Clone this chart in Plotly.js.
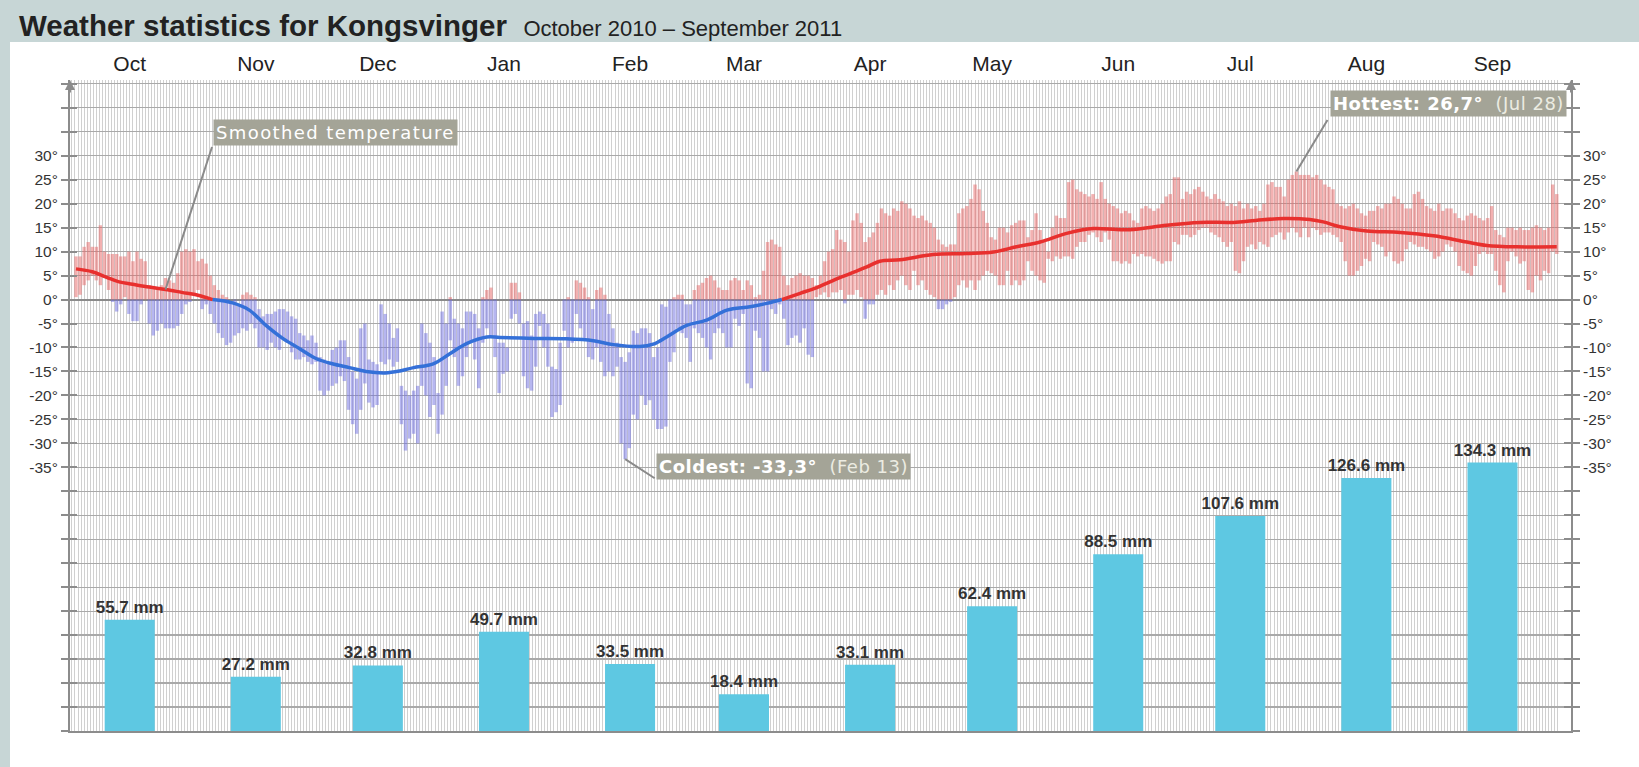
<!DOCTYPE html>
<html><head><meta charset="utf-8">
<script src="https://cdn.plot.ly/plotly-3.0.1.min.js"></script>
<style>
html,body{margin:0;padding:0;background:#fff;}
#frameTop{position:absolute;left:0;top:0;width:1639px;height:42px;background:#c7d6d6;}
#frameLeft{position:absolute;left:0;top:0;width:10px;height:767px;background:#c7d6d6;}
#chart{position:absolute;left:0;top:0;width:1639px;height:767px;}
</style></head><body>
<div id="frameTop"></div><div id="frameLeft"></div><div id="chart"></div>
<script>
// ---------- data ----------
const months = ['Oct','Nov','Dec','Jan','Feb','Mar','Apr','May','Jun','Jul','Aug','Sep'];
const monthDays = [31,30,31,31,28,31,30,31,30,31,31,30];
const precipMm = [55.7,27.2,32.8,49.7,33.5,18.4,33.1,62.4,88.5,107.6,126.6,134.3];

// daily max / min temperature (°C), October 2010 – September 2011
const octHi = [9,9,11,12,11,11,15.5,10,9.5,9.5,9.5,9,9,10,8,10,8.5,8,3,2.5,2.5,3,4.5,4,3.5,5.5,10,10.5,10,10.5,8];
const octLo = [0.5,1,3,4,5,4,3,4.5,2,-0.5,-2.5,-1,0.5,-3,-4.5,-4.5,-1,0,-5,-7.5,-6.5,-5,-6,-6,-6,-5.5,-3,-1,-0.5,1,2];
const novHi = [8.5,7.5,5,3,2,1,0.5,-0.5,0,-1,1,1.5,1,0.5,-2,-3.5,-3,-3,-2.5,-2,-2,-2.5,-3.5,-4,-7,-7.5,-8.5,-7.5,-9,-12];
const novLo = [-2,-1,-3,-5,-7,-8,-9.5,-9,-7.5,-7,-6,-6.5,-5,-6,-10,-10,-10.5,-9,-10,-10.5,-8,-9,-11,-12.5,-12.5,-12,-13,-13.5,-13,-19];
const decHi = [-12.5,-13,-10.5,-10,-8.5,-8.5,-12,-15,-16.5,-6,-5,-12.5,-13,-13.5,-1,-3,-5,-8,-6,-18,-19,-20,-19,-18,-5,-7,-9,-12,-19.5,-2.5,-5];
const decLo = [-20,-19,-18,-17.5,-16,-17,-23,-26,-28,-23,-17.5,-21.5,-22.5,-22,-13,-13.5,-12.5,-14,-13,-26,-31.5,-29,-28,-30,-18,-20,-24.5,-22,-28,-24,-18];
const janHi = [0.5,-4,-5,-6,-2.5,-2.5,-3,-6,0.5,2,2.5,0,-9,-9,-10,3.5,3.5,1.5,-5,-4.5,-7.5,-3,-2.5,-3,-5,-14,-14.5,-9,0,0.5,0];
const janLo = [-8.5,-12,-18,-16,-12,-9,-12.5,-18.5,-9,-6,-8,-12,-19.5,-15.5,-15,-4,-3,-5,-16,-18.5,-19,-14,-5.5,-10,-14,-24.5,-23.5,-22,-6.5,-10,-9];
const febHi = [4,3.5,2.5,0.5,-2,2,2.5,1,-3,-6,-9,-12,-13,-11,-6.5,-7,-6,-6,-7,-12,-10,-1,-1.5,0,0.5,1,1,-1];
const febLo = [-3,-6,-8,-12,-12.5,-10,-13,-16,-15,-16,-14,-30,-33.3,-31,-24,-25,-20,-22,-21,-25,-27,-27,-26.5,-13,-11,-6,-7,-8];
const marHi = [-1,2,3,3.5,4.5,5,4,2.5,2,2,4,4.5,4,2,4,3,0.5,1,6,12,12.5,11.5,11,5,3,4.5,5,5.5,5,5,4.5];
const marLo = [-13,-6,-7,-8,-10,-12.5,-7,-6,-7,-10,-10,-4,-5.5,-3,-17.5,-18.5,-6.5,-8,-15,-15,-2,-3,-1,-4,-9.5,-8,-7.5,-9,-6,-11.5,-12];
const aprHi = [3,5,8,10,10.5,14.5,12.5,12,10,16.5,18,16,12,13,14,16,19,18,17.5,19,18.5,20.5,20,19,17.5,17,17.5,16.5,16,15];
const aprLo = [0.5,1,1.5,0.5,1.5,1.5,2,-0.8,1,1,2,0.5,-4,-1,-1,1,2,1,3,2,4,5,3,2,6,3,4,2,1,0.5];
const mayHi = [12.5,11.5,11,11.5,11.5,18,19,19.5,21,24,23,18.5,16,13,12.5,15,15,14,15.5,16,16.5,16.5,13,14.5,18,14.5,12,10,15,17.5,17];
const mayLo = [-2,-2,-1,-0.5,0.5,3,4,2.5,4,2,4,5,6,5.5,5,3,3,6,3,4,3,4,8,6,5,4,3.5,8.5,8,9,8.5];
const junHi = [17,24.5,25,23,22.5,22,21.5,22,21,24.5,21,20,19.5,19,18,18.5,18,16.5,16,19,19.5,19,18.5,19,20,21.5,22,25.5,25.5,21];
const junLo = [9,9,8.5,11,12,12,13.5,14,13,12,14,12.5,8,8,7.5,8,7.5,9.5,9,9.5,9,9,8.5,8,7.5,8,8,12,11.5,13.5];
const julHi = [22.5,22,23,23.5,22.5,21.5,21,22,21,20.5,19.5,20,19.5,20.5,19,20,19,19.5,18.5,20,24,24.5,23.5,23.5,21.5,25,26,26.7,26,26,26];
const julLo = [13.5,13,13.5,14.5,15,15,14,13.5,13,12,11,12,6,5.5,8,11,11.5,10.5,12,11.5,11,13,13.5,14,12.5,14,15,14,13,15,13];
const augHi = [25.5,26,25,24,23.5,23,20,19.5,19,19.5,20,19,18,17.5,18.5,18.5,19.5,19,20,20,21.5,21,20,19,19,22,22.5,21,19.5,19,18.5];
const augLo = [15,14.5,13.5,14,14,13.5,13,12,8,5,5,6,7,8.5,8,12,11.5,11,9,10,8,7.5,8,10.5,12,11.5,11,11,10.5,10,8.5];
const sepHi = [20,18.5,19,19,18,17,16.5,17.5,18,17.5,17,16.5,17,19.5,14.5,13.5,13,15,15,14.5,15,14.5,14.5,15,15.5,15,14.5,15,24,22];
const sepLo = [9,10,11.5,11,10,7,6,5.5,5,7,9.5,10,9.5,9.5,6,3,1.5,8,10,9,7.5,8,2,1.5,5,4,6,5.5,10,9.5];

// smoothed temperature curve, read at these day offsets from 1 Oct 2010
const smoothDay = [0,4,7.4,10.6,13.9,18,22,26,30,33.6,38.5,42.6,46.7,50.8,54.9,59,63,67.2,71.3,76,79.6,83,87.8,91.9,96,101,104.2,112.4,120.6,127.2,132.1,138.6,141.9,145.2,150.1,155,160,165.7,169.8,173.5,178,182.1,186.2,190.3,194.4,197.6,202.6,210.7,218.9,225.5,231.2,237,243.5,250.1,255.8,259.9,268.1,276.3,284.5,290,296.8,303.3,306.6,310.7,317.3,325.5,333.7,341.9,346.8,354.2,364];
const smoothTemp = [6.4,5.8,4.7,3.7,3.2,2.6,2.1,1.5,0.9,0,-0.7,-2.2,-5.4,-8.1,-10.2,-12.3,-13.4,-14.2,-15.0,-15.3,-14.9,-14.2,-13.4,-11.3,-9.2,-7.8,-7.9,-8.1,-8.2,-8.6,-9.4,-9.8,-9.3,-7.8,-5.4,-4.3,-2.2,-1.5,-0.8,0,1.3,2.5,4.0,5.4,6.8,8.0,8.3,9.4,9.6,9.9,11.0,12.0,13.8,14.8,14.6,14.6,15.5,16.1,16.1,16.5,16.9,16.7,16.2,15.2,14.3,14.0,13.3,12.0,11.3,11.0,11.0];

// ---------- derived ----------
const tHi = [].concat(octHi,novHi,decHi,janHi,febHi,marHi,aprHi,mayHi,junHi,julHi,augHi,sepHi);
const tLo = [].concat(octLo,novLo,decLo,janLo,febLo,marLo,aprLo,mayLo,junLo,julLo,augLo,sepLo);
const startUTC = Date.UTC(2010,9,1);
const shortMon = ['Jan','Feb','Mar','Apr','May','Jun','Jul','Aug','Sep','Oct','Nov','Dec'];
function dayLabel(i){const d=new Date(startUTC+i*86400000);return shortMon[d.getUTCMonth()]+' '+d.getUTCDate();}

const monthStart = []; {let s=0; monthDays.forEach(n=>{monthStart.push(s); s+=n;});}
const BAR_OFFSET = 13.2;           // style: where the month bar / label sits inside the month
const monthPos = monthStart.map(s=>s+BAR_OFFSET);

const redX=[],redY=[],redB=[],blueX=[],blueY=[],blueB=[];
tHi.forEach((hi,i)=>{
  const lo=tLo[i];
  if(hi>0){const b=Math.max(lo,0); redX.push(i); redB.push(b); redY.push(hi-b);}
  if(lo<0){const t=Math.min(hi,0); blueX.push(i); blueB.push(lo); blueY.push(t-lo);}
});
const smoothRed = smoothTemp.map(v=>v>=0?v:null);
const smoothBlue = smoothTemp.map(v=>v<=0?v:null);

let iMax=0,iMin=0;
tHi.forEach((v,i)=>{if(v>tHi[iMax])iMax=i;});
tLo.forEach((v,i)=>{if(v<tLo[iMin])iMin=i;});
const fmt = v=>v.toFixed(1).replace('.',',');

// ---------- geometry (style) ----------
const T_RANGE=[-90,45.8];
const PX_PER_DEG = (767-80-35.5)/(T_RANGE[1]-T_RANGE[0]);
const PX_PER_MM = 2.0;
const P_RANGE=[0,(T_RANGE[1]-T_RANGE[0])*PX_PER_DEG/PX_PER_MM];
const X_RANGE=[-1.475,367.5];

const gridX=[]; for(let v=-1; v<=364.6; v+=0.75) gridX.push(v);
const tv=[]; for(let v=-90; v<=45; v+=5) tv.push(v);
const tt=tv.map(v=>(v>=-35&&v<=30)?v+'°':'');

const axisCol='#8c8c8c';
const tickFont={family:'Liberation Sans, Arial, sans-serif',size:15.5,color:'#333'};

const traces=[
 {type:'bar',x:redX,y:redY,base:redB,width:0.85,marker:{color:'rgba(232,100,100,0.5)',line:{width:0}},hoverinfo:'skip',xaxis:'x',yaxis:'y'},
 {type:'bar',x:blueX,y:blueY,base:blueB,width:0.85,marker:{color:'rgba(110,110,225,0.5)',line:{width:0}},hoverinfo:'skip',xaxis:'x',yaxis:'y'},
 {type:'scatter',mode:'lines',x:smoothDay,y:smoothRed,line:{color:'#e8302e',width:3.5,shape:'spline',smoothing:1},connectgaps:false,hoverinfo:'skip',xaxis:'x',yaxis:'y'},
 {type:'scatter',mode:'lines',x:smoothDay,y:smoothBlue,line:{color:'#3470d8',width:3.5,shape:'spline',smoothing:1},connectgaps:false,hoverinfo:'skip',xaxis:'x',yaxis:'y'},
 {type:'bar',x:monthPos,y:precipMm,width:12.3,marker:{color:'#5ec8e2',line:{width:0}},
  text:precipMm.map(v=>v.toFixed(1)+' mm'),textposition:'outside',constraintext:'none',cliponaxis:false,
  textfont:{family:'Liberation Sans, Arial, sans-serif',size:17,color:'#333',weight:'bold'},
  hoverinfo:'skip',xaxis:'x',yaxis:'y2'}
];

const boxFont={family:'DejaVu Sans, sans-serif',size:18,color:'#ffffff'};
const boxBg='#a4a497';
const annotations=[
 // top arrows of the two axes
 {xref:'paper',yref:'paper',x:0,y:1,ax:0,ay:14,text:'',showarrow:true,arrowhead:2,arrowsize:1,arrowwidth:2,arrowcolor:axisCol},
 {xref:'paper',yref:'paper',x:1,y:1,ax:0,ay:14,text:'',showarrow:true,arrowhead:2,arrowsize:1,arrowwidth:2,arrowcolor:axisCol},
 // smoothed temperature pointer + box
 {x:smoothDay[6],y:smoothTemp[6],text:'',showarrow:true,arrowhead:0,arrowwidth:2,arrowcolor:'#8a8a8a',ax:47,ay:-144},
 {x:smoothDay[6],y:smoothTemp[6],showarrow:false,xanchor:'left',yanchor:'middle',xshift:47,yshift:157,
  text:'<span style="letter-spacing:1.4px">Smoothed temperature</span>',font:boxFont,bgcolor:boxBg,borderpad:2},
 // coldest
 {x:iMin,y:tLo[iMin],text:'',showarrow:true,arrowhead:0,arrowwidth:2,arrowcolor:'#8a8a8a',ax:31,ay:20},
 {x:iMin,y:tLo[iMin],showarrow:false,xanchor:'left',yanchor:'middle',xshift:31,yshift:-7,
  text:'<span style="letter-spacing:0.5px"><b>Coldest: '+fmt(tLo[iMin])+'°</b>&nbsp;&nbsp;<span style="color:#ecece2">('+dayLabel(iMin)+')</span></span>',font:boxFont,bgcolor:boxBg,borderpad:2},
 // hottest
 {x:iMax,y:tHi[iMax],text:'',showarrow:true,arrowhead:0,arrowwidth:2,arrowcolor:'#8a8a8a',ax:32,ay:-53},
 {x:iMax,y:tHi[iMax],showarrow:false,xanchor:'left',yanchor:'middle',xshift:34,yshift:68,
  text:'<span style="letter-spacing:0.5px"><b>Hottest: '+fmt(tHi[iMax])+'°</b>&nbsp;&nbsp;<span style="color:#ecece2">('+dayLabel(iMax)+')</span></span>',font:boxFont,bgcolor:boxBg,borderpad:2}
];

const layout={
 width:1639,height:767,
 margin:{l:70,r:68,t:80,b:35.5,pad:0},
 paper_bgcolor:'rgba(0,0,0,0)',plot_bgcolor:'#ffffff',
 showlegend:false,hovermode:false,barmode:'overlay',
 title:{text:'<b>Weather statistics for Kongsvinger</b>&nbsp;&nbsp;<span style="font-size:22px">October 2010 – September 2011</span>',
   xref:'container',yref:'container',x:19/1639,xanchor:'left',y:1-26/767,yanchor:'middle',
   font:{family:'Liberation Sans, Arial, sans-serif',size:29.5,color:'#222'}},
 xaxis:{range:X_RANGE,tickmode:'array',tickvals:gridX,showticklabels:false,ticks:'',showgrid:true,gridcolor:'#d0d0d0',gridwidth:1,
   zeroline:false,showline:true,linecolor:axisCol,linewidth:2,fixedrange:true},
 xaxis2:{overlaying:'x',side:'top',range:X_RANGE,tickmode:'array',tickvals:monthPos,ticktext:months,ticks:'',showgrid:false,zeroline:false,
   showline:false,ticklabelstandoff:4,tickfont:{family:'Liberation Sans, Arial, sans-serif',size:21,color:'#222'},anchor:'y'},
 yaxis:{range:T_RANGE,tickmode:'array',tickvals:tv,ticktext:tt,ticks:'outside',ticklen:7,tickwidth:2,tickcolor:axisCol,
   showline:true,linecolor:axisCol,linewidth:2,showgrid:true,gridcolor:'#a9a9a9',gridwidth:1.3,
   zeroline:true,zerolinecolor:'#8a8a8a',zerolinewidth:2,tickfont:tickFont,fixedrange:true},
 yaxis2:{overlaying:'y',range:P_RANGE,visible:false,fixedrange:true},
 yaxis3:{overlaying:'y',side:'right',range:T_RANGE,tickmode:'array',tickvals:tv,ticktext:tt,ticks:'outside',ticklen:7,tickwidth:2,tickcolor:axisCol,
   showline:true,linecolor:axisCol,linewidth:2,showgrid:false,zeroline:false,tickfont:tickFont},
 yaxis4:{overlaying:'y',side:'left',range:T_RANGE,tickmode:'array',tickvals:tv,ticks:'inside',ticklen:7,tickwidth:2,tickcolor:axisCol,
   showticklabels:false,showline:false,showgrid:false,zeroline:false},
 yaxis5:{overlaying:'y',side:'right',range:T_RANGE,tickmode:'array',tickvals:tv,ticks:'inside',ticklen:7,tickwidth:2,tickcolor:axisCol,
   showticklabels:false,showline:false,showgrid:false,zeroline:false},
 annotations:annotations
};
// invisible helper traces that switch on the extra axes
traces.push({type:'scatter',x:[0],y:[0],xaxis:'x2',yaxis:'y',mode:'markers',marker:{opacity:0},hoverinfo:'skip'});
traces.push({type:'scatter',x:[0],y:[0],xaxis:'x',yaxis:'y3',mode:'markers',marker:{opacity:0},hoverinfo:'skip'});
traces.push({type:'scatter',x:[0],y:[0],xaxis:'x',yaxis:'y4',mode:'markers',marker:{opacity:0},hoverinfo:'skip'});
traces.push({type:'scatter',x:[0],y:[0],xaxis:'x',yaxis:'y5',mode:'markers',marker:{opacity:0},hoverinfo:'skip'});

Plotly.newPlot('chart',traces,layout,{displayModeBar:false,staticPlot:true});
</script></body></html>
